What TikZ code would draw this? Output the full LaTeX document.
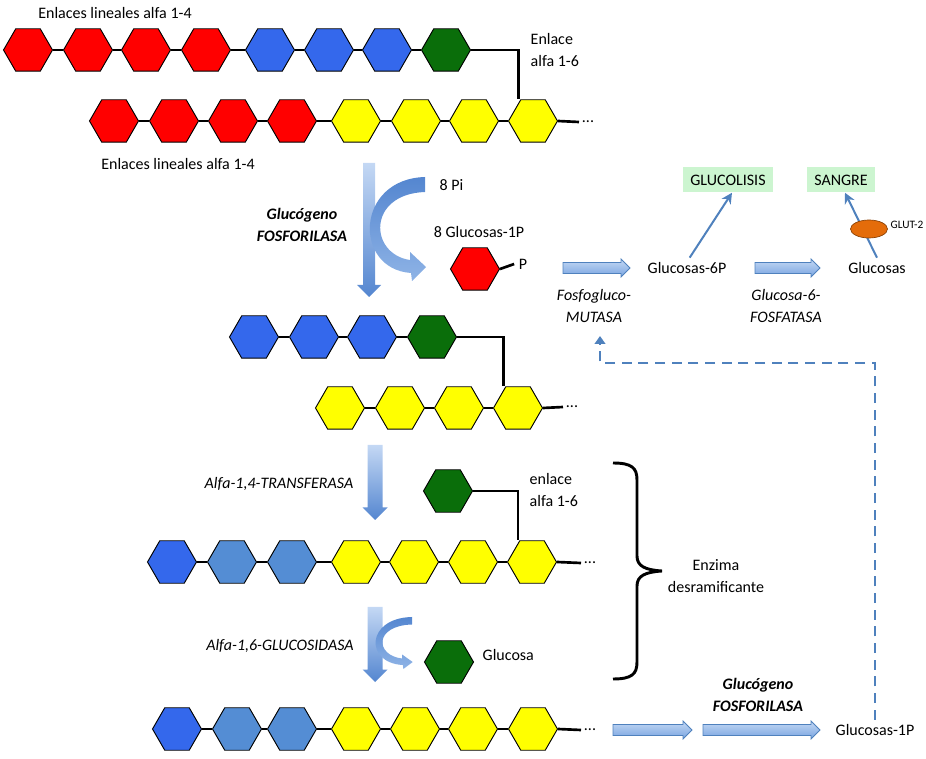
\documentclass[tikz,border=0pt]{standalone}
\usepackage{fontspec}
\setmainfont{Carlito}
\usetikzlibrary{shapes.geometric,arrows.meta}

\definecolor{hexred}{RGB}{255,0,0}
\definecolor{hexblue}{RGB}{52,104,236}
\definecolor{hexsky}{RGB}{84,141,212}
\definecolor{hexgreen}{RGB}{10,110,10}
\definecolor{hexyellow}{RGB}{255,255,0}
\definecolor{boxgreen}{RGB}{204,245,208}
\definecolor{flowblue}{RGB}{79,129,189}
\definecolor{flowlight}{RGB}{196,216,244}
\definecolor{flowmid}{RGB}{120,164,224}
\definecolor{flowdeep}{RGB}{84,134,208}
\definecolor{glutorange}{RGB}{228,108,10}

\tikzset{
	hexa/.style={regular polygon, regular polygon sides=6, minimum size=36.75pt, inner sep=0pt, draw=black, line width=0.7pt},
	bond/.style={line width=2pt, black},
	flowfill/.style={draw=flowblue, line width=0.6pt, top color=flowlight, bottom color=flowmid},
	bendfill/.style={top color=flowdeep, bottom color=flowmid!70!flowlight},
	downfill/.style={top color=flowlight, bottom color=flowdeep},
	enzyme/.style={font=\fontsize{12}{16}\selectfont\itshape},
	enzymebf/.style={font=\fontsize{12}{16}\selectfont\bfseries\itshape},
	destbox/.style={fill=boxgreen, inner sep=0pt, minimum height=18.75pt},
	thinflow/.style={flowblue, line width=1.5pt, -{Stealth[length=8pt,width=8pt]}},
	dashflow/.style={flowblue, line width=2.2pt, dash pattern=on 7.5pt off 5pt, -{Triangle[length=6pt,width=8pt]}}
}

% flecha curva (origen en el extremo superior derecho)
\newcommand{\bendpath}{(0,0) .. controls (-70,2) and (-72,92) .. (-14,96) -- (-13,104) -- (1,90) -- (-15,75) -- (-15,83) .. controls (-56,77) and (-58,17) .. (0,15) -- cycle}
% flecha vertical: x, arriba, punta, medio cuerpo, media cabeza
\newcommand{\downbar}[5]{({#1-#4},#2) -- ({#1+#4},#2) -- ({#1+#4},{#3-#5}) -- ({#1+#5},{#3-#5}) -- (#1,#3) -- ({#1-#5},{#3-#5}) -- ({#1-#4},{#3-#5}) -- cycle}
% flecha horizontal: inicio, y, punta, medio cuerpo, media cabeza
\newcommand{\rightbar}[5]{(#1,{#2-#4}) -- ({#3-#5},{#2-#4}) -- ({#3-#5},{#2-#5}) -- (#3,#2) -- ({#3-#5},{#2+#5}) -- ({#3-#5},{#2+#4}) -- (#1,{#2+#4}) -- cycle}

\begin{document}
\begin{tikzpicture}[x=0.75pt, y=-0.75pt, font=\fontsize{12}{16}\selectfont]
	\useasboundingbox (0,0) rectangle (926,759);

	% glucogeno ramificado
	\node (t1) at (115,13) {Enlaces lineales alfa 1-4};
	\foreach \x/\c [count=\i] in {28/hexred,88/hexred,146/hexred,206/hexred,270/hexblue,329/hexblue,387/hexblue,446/hexgreen}
		\node[hexa, fill=\c] (a\i) at (\x,50) {};
	\foreach \x/\c [count=\i] in {114/hexred,174/hexred,233/hexred,292/hexred,356/hexyellow,416/hexyellow,474/hexyellow,533/hexyellow}
		\node[hexa, fill=\c] (b\i) at (\x,121) {};
	\foreach \i [count=\j from 2] in {1,...,7}{
		\draw[bond] (a\i.east) -- (a\j.west);
		\draw[bond] (b\i.east) -- (b\j.west);
	}
	\draw[bond] (a8.east) -| ([xshift=-11pt]b8.north);
	\node[anchor=west, align=left] (enl1) at (526,50) {Enlace\\alfa 1-6};
	\node[inner sep=2pt] (dotsb) at (588,122) {...};
	\draw[bond] (b8.east) -- (dotsb.west);
	\node (t2) at (178,164) {Enlaces lineales alfa 1-4};

	% fosforilasa
	\shade[downfill] \downbar{369}{163}{297}{6}{12};
	\begin{scope}[shift={(425,177)}]
		\shade[bendfill] \bendpath;
	\end{scope}
	\node[enzymebf, align=center] (fosname) at (302,225) {Glucógeno\\FOSFORILASA};
	\node[anchor=west] (pi) at (435,185) {8 Pi};
	\node (g1pa) at (479,232) {8 Glucosas-1P};
	\node[hexa, fill=hexred] (rp) at (475,269) {};
	\node (pp) at (523,264) {P};
	\draw[bond] (rp.east) -- (pp.west);

	% rutas
	\shade[flowfill] \rightbar{563}{268}{630}{5.5}{9};
	\node[enzyme, align=center] (mutasa) at (594,306) {Fosfogluco-\\MUTASA};
	\node (g6p) at (687,268) {Glucosas-6P};
	\node[destbox, minimum width=67.5pt] (glucolisis) at (728,180) {GLUCOLISIS};
	\draw[thinflow] ([xshift=2pt]g6p.north) -- ([xshift=3pt]glucolisis.south);
	\shade[flowfill] \rightbar{755}{268}{820}{5.5}{9};
	\node[enzyme, align=center] (fosfatasa) at (786,306) {Glucosa-6-\\FOSFATASA};
	\node (glc) at (877,268) {Glucosas};
	\node[destbox, minimum width=51pt] (sangre) at (841,180) {SANGRE};
	\draw[thinflow] (glc.north) -- ([xshift=3pt]sangre.south);
	\node[ellipse, draw=glutorange!60!black, line width=0.5pt, fill=glutorange, minimum width=27.75pt, minimum height=13.5pt, inner sep=0pt] (glut) at (869,229) {};
	\node[anchor=west, font=\fontsize{8.5}{10}\selectfont, inner sep=1pt] (glutname) at (889,225) {GLUT-2};

	% cadena tras la fosforilasa
	\foreach \x/\c [count=\i] in {254/hexblue,314/hexblue,372/hexblue,432/hexgreen}
		\node[hexa, fill=\c] (c\i) at (\x,337) {};
	\foreach \x [count=\i] in {340,400,459,518}
		\node[hexa, fill=hexyellow] (d\i) at (\x,408) {};
	\foreach \i [count=\j from 2] in {1,2,3}{
		\draw[bond] (c\i.east) -- (c\j.west);
		\draw[bond] (d\i.east) -- (d\j.west);
	}
	\draw[bond] (c4.east) -| ([xshift=-11pt]d4.north);
	\node[inner sep=2pt] (dotsd) at (572,407) {...};
	\draw[bond] (d4.east) -- (dotsd.west);

	% transferasa
	\shade[downfill] \downbar{375}{445}{520}{7.5}{12.5};
	\node[enzyme] (transname) at (279,484) {Alfa-1,4-TRANSFERASA};
	\node[hexa, fill=hexgreen] (gb) at (448,491) {};
	\node[anchor=west, align=left] (enl2) at (525,490) {enlace\\alfa 1-6};
	\foreach \x/\c [count=\i] in {172/hexblue,232/hexsky,292/hexsky,356/hexyellow,414/hexyellow,473/hexyellow,532/hexyellow}
		\node[hexa, fill=\c] (f\i) at (\x,562) {};
	\foreach \i [count=\j from 2] in {1,...,6}
		\draw[bond] (f\i.east) -- (f\j.west);
	\draw[bond] (gb.east) -| ([xshift=-10.5pt]f7.north);
	\node[inner sep=2pt] (dotsf) at (590,563) {...};
	\draw[bond] (f7.east) -- (dotsf.west);

	% glucosidasa
	\shade[downfill] \downbar{375}{607}{682}{7.5}{12.5};
	\begin{scope}[shift={(412,617)}, xscale=0.66, yscale=0.5]
		\shade[bendfill] \bendpath;
	\end{scope}
	\node[enzyme] (glucname) at (280,646) {Alfa-1,6-GLUCOSIDASA};
	\node[hexa, fill=hexgreen] (gfree) at (449,662) {};
	\node[anchor=west] (gfreename) at (478,655) {Glucosa};
	\foreach \x/\c [count=\i] in {177/hexblue,237/hexsky,292/hexsky,356/hexyellow,415/hexyellow,473/hexyellow,533/hexyellow}
		\node[hexa, fill=\c] (h\i) at (\x,729) {};
	\foreach \i [count=\j from 2] in {1,...,6}
		\draw[bond] (h\i.east) -- (h\j.west);
	\node[inner sep=2pt] (dotsh) at (590,730) {...};
	\draw[bond] (h7.east) -- (dotsh.west);

	% enzima desramificante
	\draw[line width=2.2pt] (613,463) .. controls (632,463) and (637,468) .. (637,480) -- (637,556) .. controls (637,566) and (645,570) .. (662,571) .. controls (645,572) and (637,576) .. (637,586) -- (637,662) .. controls (637,674) and (632,679) .. (613,679);
	\node[align=center] (desram) at (716,576) {Enzima\\desramificante};

	% salida final
	\shade[flowfill] \rightbar{613}{730}{692}{5.5}{9};
	\shade[flowfill] \rightbar{703}{730}{820}{5.5}{9};
	\node[enzymebf, align=center] (fos2) at (758,695) {Glucógeno\\FOSFORILASA};
	\node (g1p) at (875,730) {Glucosas-1P};
	\coordinate (dbend) at (600,363);
	\coordinate (dtip) at (600,336);
	\draw[dashflow] (g1p.north) |- (dbend) -- (dtip);
\end{tikzpicture}
\end{document}
